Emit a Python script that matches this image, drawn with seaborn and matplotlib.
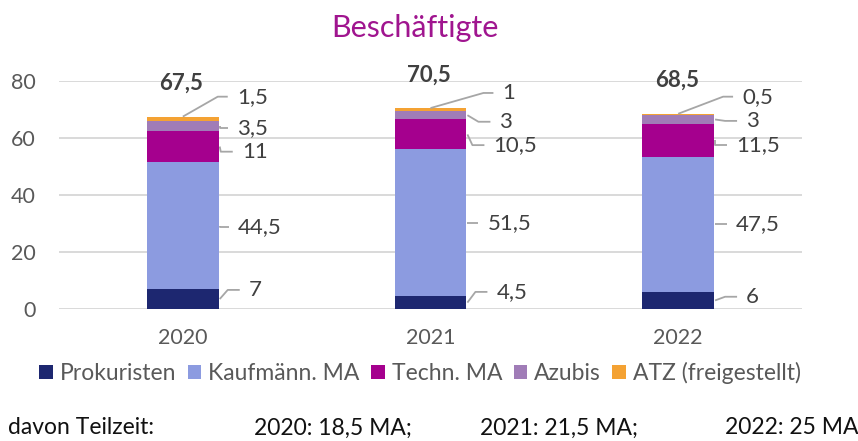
import matplotlib
matplotlib.use("Agg")
import numpy as np
import matplotlib.pyplot as plt
import seaborn as sns
from matplotlib.patches import Patch

# ---- data -------------------------------------------------------------
years = ["2020", "2021", "2022"]
series = ["Prokuristen", "Kaufmänn. MA", "Techn. MA", "Azubis", "ATZ (freigestellt)"]
prokuristen = [7, 4.5, 6]
kaufmaenn = [44.5, 51.5, 47.5]
techn = [11, 10.5, 11.5]
azubis = [3.5, 3, 3]
atz = [1.5, 1, 0.5]
teilzeit_label = "davon Teilzeit:"
teilzeit = ["2020: 18,5 MA;", "2021: 21,5 MA;", "2022: 25 MA"]

colors = ["#1d2770", "#8c9be0", "#a5008e", "#a07cb7", "#f4a233"]

# ---- label layout (label centre in data units, gap to bar edge in px) --
label_y = [
    [6.7, 6.0, 4.3],
    [28.8, 30.2, 29.8],
    [55.2, 57.5, 57.5],
    [63.6, 65.7, 66.0],
    [74.5, 75.8, 74.5],
]
label_gap = [
    [30, 30, 32],
    [19, 21, 22],
    [23, 27, 22],
    [18, 33, 32],
    [18, 36, 28],
]

values = [prokuristen, kaufmaenn, techn, azubis, atz]
vals = np.array(values, dtype=float)
cum = np.cumsum(vals, axis=0)
totals = cum[-1]


def de(v):
    return f"{v:g}".replace(".", ",")


sns.set_theme(style="white")
plt.rcParams["font.family"] = ["Lato", "DejaVu Sans"]

W, H = 858, 441
fig = plt.figure(figsize=(W / 100, H / 100), dpi=100)
ax = fig.add_axes([59 / W, 1 - 309 / H, 743 / W, 228 / H])

bar_w = 0.29
# stacked bars: draw running totals from the top layer down
for k in reversed(range(len(series))):
    sns.barplot(x=years, y=cum[k], color=colors[k], width=bar_w,
                saturation=1, linewidth=0, ax=ax)

ax.set_xlim(-0.5, 2.5)
ax.set_ylim(0, 80)
ax.set_yticks([0, 20, 40, 60, 80])
ax.yaxis.grid(True, color="#d9d9d9", lw=1.4)
ax.xaxis.grid(False)
ax.set_axisbelow(True)
for s in ax.spines.values():
    s.set_visible(False)
ax.set_xlabel("")
ax.set_ylabel("")
ax.tick_params(axis="y", length=0, labelsize=15.5, labelcolor="#595959", pad=17)
ax.tick_params(axis="x", length=0, labelsize=15.5, labelcolor="#595959", pad=14)

fig.canvas.draw()
to_disp = ax.transData.transform
to_data = ax.transData.inverted().transform
lab_col = "#404040"
leader_col = "#a6a6a6"

for i in range(len(years)):
    right_px = to_disp((i + bar_w / 2, 0))[0]
    for k in range(len(series)):
        ly_px = to_disp((0, label_y[k][i]))[1]
        left_px = right_px + label_gap[k][i]
        end_px = left_px - 9
        if k == len(series) - 1:
            start = to_disp((i, totals[i]))
            elbow = (end_px - 10, ly_px)
        else:
            mid = cum[k][i] - vals[k][i] / 2
            start = to_disp((i + bar_w / 2, mid))
            start = (start[0] + 1, start[1])
            elbow = (max(start[0], end_px - 12), ly_px)
        pts = to_data(np.array([start, elbow, (end_px, ly_px)]))
        ax.plot(pts[:, 0], pts[:, 1], color=leader_col, lw=1.3,
                solid_capstyle="butt", clip_on=False, zorder=5)
        tx, ty = to_data((left_px, ly_px))
        ax.text(tx, ty, de(vals[k][i]), ha="left", va="center",
                fontsize=16, color=lab_col, clip_on=False)
    ax.annotate(de(totals[i]), (i, totals[i]), xytext=(-1, 24),
                textcoords="offset points", ha="center", va="center",
                fontsize=16, fontweight="bold", color=lab_col,
                annotation_clip=False)

fig.text(415 / W, 1 - 28 / H, "Beschäftigte", ha="center", va="center",
         fontsize=22, color="#a0158f")

handles = [Patch(facecolor=c, edgecolor="none") for c in colors]
fig.legend(handles, series, loc="center", bbox_to_anchor=(420 / W, 1 - 373 / H),
           ncol=5, frameon=False, fontsize=16.5, labelcolor="#595959",
           handlelength=0.6, handleheight=0.6, handletextpad=0.3,
           columnspacing=0.5, borderaxespad=0, borderpad=0)

fig.text(8 / W, 1 - 428 / H, teilzeit_label, ha="left", va="center",
         fontsize=16.5, color="#111111")
for xp, t in zip([254, 480, 725], teilzeit):
    fig.text(xp / W, 1 - 428 / H, t, ha="left", va="center",
             fontsize=16.5, color="#111111")

fig.savefig("out.png", dpi=100)
